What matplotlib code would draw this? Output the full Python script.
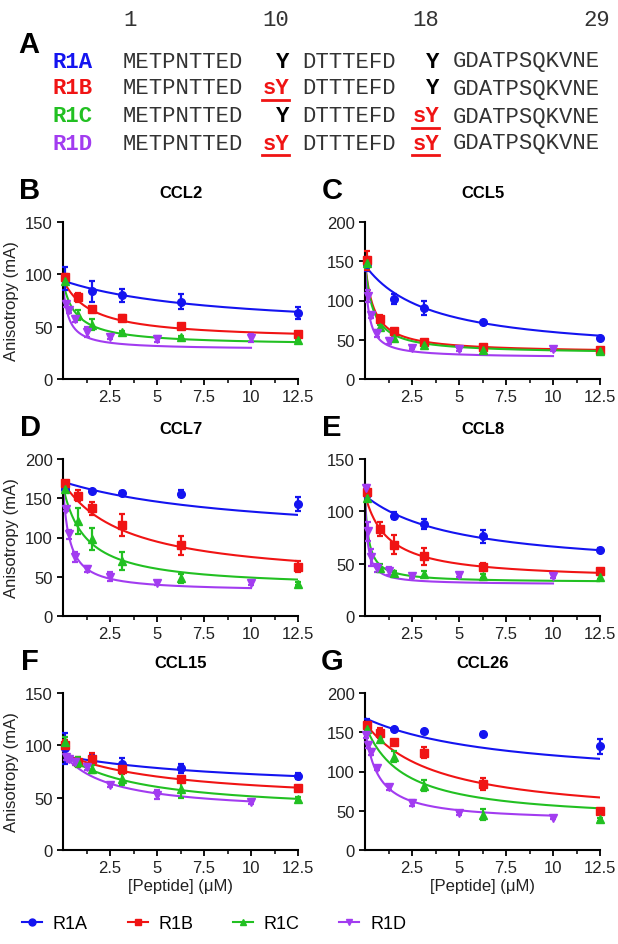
import numpy as np
import matplotlib.pyplot as plt
from matplotlib.lines import Line2D

plt.rcParams['font.family'] = ['Liberation Sans', 'DejaVu Sans']

W, H = 618, 945

# panel A: sequences
pep_names = ["R1A", "R1B", "R1C", "R1D"]
pep_colors = ["#1414F0", "#F01414", "#22C022", "#A23CF0"]
site10 = ["Y", "sY", "Y", "sY"]
site18 = ["Y", "Y", "sY", "sY"]
seq_parts = ["METPNTTED", "DTTTEFD", "GDATPSQKVNE"]
res_numbers = ["1", "10", "18", "29"]

# panels B-G
chemokines = ["CCL2", "CCL5", "CCL7", "CCL8", "CCL15", "CCL26"]
letters = ["B", "C", "D", "E", "F", "G"]
ymax = [150, 200, 200, 150, 150, 200]

x_r1a = [0.1, 1.5625, 3.125, 6.25, 12.5]
x_r1bc = [0.1, 0.78, 1.5625, 3.125, 6.25, 12.5]
x_r1d = [0.078, 0.156, 0.3125, 0.625, 1.25, 2.5, 5, 10]

nan = np.nan
r1a_y = [[96, 84, 80, 74, 63],
         [146, 102, 91, 72, 52],
         [162, 159, 157, 156, 143],
         [117, 96, 88, 76, 63],
         [97, 87, 82, 78, 71],
         [161, 154, 151, 148, 132]]
r1a_err = [[11, 10, 6, 7, 6],
           [9, 6, 9, 2, 2],
           [2, 2, 2, 5, 9],
           [4, 3, 5, 6, 2],
           [15, 4, 6, 4, 3],
           [6, 2, 2, 2, 10]]
r1b_y = [[97, 78, 67, 58, 51, 43],
         [151, 76, 61, 47, 41, 37],
         [169, 153, 137, 116, 90, 63],
         [118, 83, 68, 57, 47, 43],
         [100, 84.5, 87, 77.5, 68, 59],
         [159, 149, 137, 124, 84, 50]]
r1b_err = [[3, 4, 2, 3, 2, 2],
           [12, 5, 3, 2, 2, 2],
           [3, 7, 8, 14, 12, 7],
           [4, 7, 9, 8, 4, 2],
           [5, 4, 6, 5, 3, 2],
           [4, 6, 3, 7, 8, 2]]
r1c_y = [[94, 61, 52, 45, 40, 37],
         [148, 66, 52, 43, 37, 36],
         [162, 121, 98, 70, 48, 41],
         [113, 46, 41, 40, 38, 37],
         [103, 84, 77.5, 68, 58, 49],
         [154, 142, 119, 82, 45, 39]]
r1c_err = [[4, 5, 5, 1, 1, 1],
           [6, 3, 3, 2, 2, 1],
           [3, 16, 14, 11, 6, 2],
           [3, 4, 2, 3, 2, 2],
           [5, 5, 4, 6, 8, 2],
           [4, 4, 7, 7, 7, 2]]
r1d_y = [[nan, 72, 66, 57, 45, 40, 38, 39],
         [nan, 106, 81, 58, 48, 40, 38, 38],
         [nan, 136, 104, 75, 60, 50, 42, 42],
         [122, 81, 56, 46, 43, 38, 39, 38],
         [nan, 89, 87, 84, 79, 62, 53, 45.6],
         [146, 134, 125, 104, 80, 60, 47, 41]]
r1d_err = [[0, 3, 3, 3, 5, 2, 3, 4],
           [0, 8, 3, 4, 4, 2, 2, 2],
           [0, 2, 6, 6, 4, 6, 2, 2],
           [3, 9, 8, 4, 4, 2, 2, 2],
           [0, 3, 3, 3, 3, 2, 4, 2],
           [3, 4, 4, 2, 3, 4, 2, 2]]

# fitted one-site curves: (top, bottom, k) per panel
fit_r1a = [(94, 45, 8), (145, 30, 3.5), (171, 95, 10), (115, 42, 5), (90, 55, 10), (168, 85, 7.5)]
fit_r1b = [(95, 37, 1.5), (150, 33, 0.45), (170, 42, 3.5), (116, 34, 1.2), (92, 44, 6), (162, 38, 3.8)]
fit_r1c = [(93, 32, 0.7), (150, 32, 0.4), (165, 35, 1.2), (115, 32, 0.2), (92, 35, 4), (160, 36, 2)]
fit_r1d = [(90, 28, 0.3), (150, 27, 0.18), (165, 31, 0.35), (120, 30, 0.12), (92, 35, 2.5), (155, 36, 0.7)]

markers = ["o", "s", "^", "v"]


def fx(x):
    return x / W


def fy(y):
    return 1 - y / H


fig = plt.figure(figsize=(W / 100, H / 100), dpi=100)

# ---- panel A ----
mono = ['Liberation Mono', 'DejaVu Sans Mono']
seq_fs = 16
fig.text(fx(18), fy(45), "A", fontsize=21, fontweight='bold', va='center', ha='left')
for num, xc in zip(res_numbers, [130, 276, 426, 597]):
    fig.text(fx(xc), fy(20), num, family=mono, fontsize=seq_fs, ha='center', va='center', color='#333333')
row_y = [62, 89, 117, 144]
for i, name in enumerate(pep_names):
    yy = fy(row_y[i])
    fig.text(fx(53), yy, name, family=mono, fontsize=seq_fs, fontweight='bold',
             color=pep_colors[i], ha='left', va='center')
    fig.text(fx(123), yy, seq_parts[0], family=mono, fontsize=seq_fs, ha='left', va='center', color='#333333')
    fig.text(fx(302), yy, seq_parts[1], family=mono, fontsize=seq_fs, ha='left', va='center', color='#333333')
    fig.text(fx(453), yy, seq_parts[2], family=mono, fontsize=seq_fs, ha='left', va='center', color='#333333')
    for site, xr in [(site10[i], 289), (site18[i], 439)]:
        col = '#F01414' if site == "sY" else 'black'
        fig.text(fx(xr), yy, site, family=mono, fontsize=seq_fs, fontweight='bold',
                 color=col, ha='right', va='center')
        if site == "sY":
            fig.add_artist(Line2D([fx(xr - 27), fx(xr)], [fy(row_y[i] + 12)] * 2,
                                  color='#F01414', lw=2))

# ---- panels B-G ----
ax_left = [63, 365]
ax_top = [223, 460, 694]
ax_w, ax_h = 235, 157

series_x = [x_r1a, x_r1bc, x_r1bc, x_r1d]
series_y = [r1a_y, r1b_y, r1c_y, r1d_y]
series_err = [r1a_err, r1b_err, r1c_err, r1d_err]
series_fit = [fit_r1a, fit_r1b, fit_r1c, fit_r1d]
series_end = [12.5, 12.5, 12.5, 10]

for p in range(6):
    row, col = divmod(p, 2)
    l, t = ax_left[col], ax_top[row]
    ax = fig.add_axes([fx(l), fy(t + ax_h), ax_w / W, ax_h / H])
    for s in range(4):
        top, bot, k = series_fit[s][p]
        xc = np.linspace(0.02, series_end[s], 300)
        ax.plot(xc, bot + (top - bot) / (1 + xc / k), color=pep_colors[s], lw=1.5, zorder=2)
        ax.errorbar(series_x[s], series_y[s][p], yerr=series_err[s][p], fmt=markers[s],
                    color=pep_colors[s], ms=5.5, elinewidth=1.6, capsize=2.5, capthick=1.6,
                    zorder=3, clip_on=False)
    ax.set_xlim(0, 12.5)
    ax.set_ylim(0, ymax[p])
    ax.set_yticks(np.arange(0, ymax[p] + 1, 50))
    ax.set_xticks([2.5, 5, 7.5, 10, 12.5])
    ax.set_xticklabels(["2.5", "5", "7.5", "10", "12.5"])
    ax.set_xticks([1.25, 3.75, 6.25, 8.75, 11.25], minor=True)
    for sp in ['top', 'right']:
        ax.spines[sp].set_visible(False)
    for sp in ['left', 'bottom']:
        ax.spines[sp].set_linewidth(1.5)
    ax.tick_params(which='major', direction='out', length=4, width=1.3, labelsize=12,
                   labelcolor='#222222')
    ax.tick_params(which='minor', direction='out', length=3, width=1.1)
    ax.text(0.5, 1 + 30 / ax_h, chemokines[p], transform=ax.transAxes, ha='center',
            va='center', fontsize=12, fontweight='bold')
    fig.text(fx(l - 33), fy(t - 32), letters[p], fontsize=21, fontweight='bold',
             ha='center', va='center')
    if col == 0:
        ax.set_ylabel("Anisotropy (mA)", fontsize=12, color='#222222', labelpad=4)
    if row == 2:
        ax.set_xlabel("[Peptide] (\u03bcM)", fontsize=12, color='#222222', labelpad=2)

handles = [Line2D([], [], color=c, marker=m, lw=1.5, ms=5) for c, m in zip(pep_colors, markers)]
fig.legend(handles, pep_names, loc='center left', bbox_to_anchor=(fx(6), fy(925)), ncol=4,
           frameon=False, fontsize=13, handlelength=1.1, handletextpad=0.6, columnspacing=2.2)

fig.savefig("out.png", dpi=100)
